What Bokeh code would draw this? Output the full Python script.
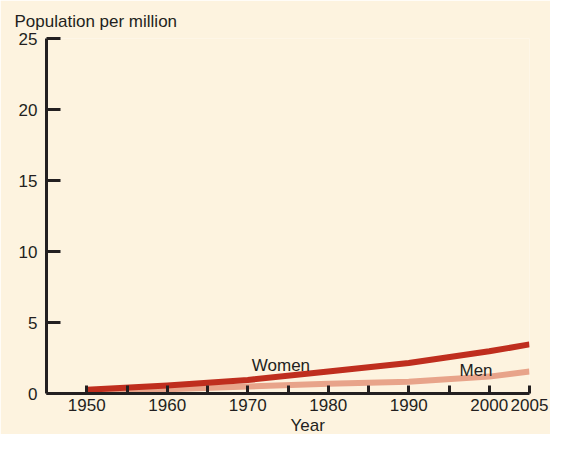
from bokeh.plotting import figure
from bokeh.models import Range1d, FixedTicker, Label, Title
from bokeh.embed import file_html
from bokeh.resources import INLINE

# Data
years = [1950, 1960, 1970, 1980, 1990, 2000, 2005]
women = [0.27, 0.56, 0.95, 1.55, 2.15, 2.97, 3.46]
men = [0.12, 0.30, 0.49, 0.69, 0.83, 1.19, 1.55]
x_ticks = [1950, 1955, 1960, 1965, 1970, 1975, 1980, 1985, 1990, 1995, 2000, 2005]
x_tick_labels = {1955: "", 1965: "", 1975: "", 1985: "", 1995: ""}
y_ticks = [0, 5, 10, 15, 20, 25]

BG = "#fdf3df"
AX = "#231f20"
FONT = "Liberation Sans"
FS = "17px"

p = figure(width=550, height=434, output_backend="svg", toolbar_location=None,
           x_range=Range1d(1945, 2005), y_range=Range1d(0, 25),
           min_border_left=46, min_border_right=21, min_border_top=38, min_border_bottom=40,
           background_fill_color=BG, border_fill_color=BG, outline_line_color=None)

p.grid.visible = False

p.title.text = "Population per million"
p.title.align = "left"
p.title.offset = -32
p.title.text_font = FONT
p.title.text_font_size = FS
p.title.text_font_style = "normal"
p.title.text_color = AX
p.title.standoff = 16

for ax in (p.xaxis[0], p.yaxis[0]):
    ax.axis_line_color = AX
    ax.axis_line_width = 3
    ax.major_tick_line_color = AX
    ax.major_tick_line_width = 3
    ax.minor_tick_line_color = None
    ax.major_tick_out = 0
    ax.major_label_text_font = FONT
    ax.major_label_text_font_size = FS
    ax.major_label_text_color = AX

p.xaxis.ticker = FixedTicker(ticks=x_ticks)
p.xaxis.major_label_overrides = x_tick_labels
p.xaxis.major_tick_in = 8
p.xaxis.major_label_standoff = 5

p.yaxis.ticker = FixedTicker(ticks=y_ticks)
p.yaxis.major_tick_in = 14
p.yaxis.major_label_standoff = 9

p.line(years, men, line_color="#e8a48a", line_width=6, line_join="round")
p.line(years, women, line_color="#bf2e1e", line_width=6, line_join="round")

def lab(x, y, t):
    p.add_layout(Label(x=x, y=y, text=t, text_font=FONT, text_font_size=FS,
                       text_color=AX, text_baseline="alphabetic"))

lab(1970.5, 1.97, "Women")
lab(1996.3, 1.64, "Men")

year_title = Title(text="Year", align="left", offset=244, standoff=0,
                   text_font=FONT, text_font_size=FS, text_font_style="normal",
                   text_color=AX)
p.add_layout(year_title, "below")

open("out.html", "w").write(file_html(p, INLINE))
